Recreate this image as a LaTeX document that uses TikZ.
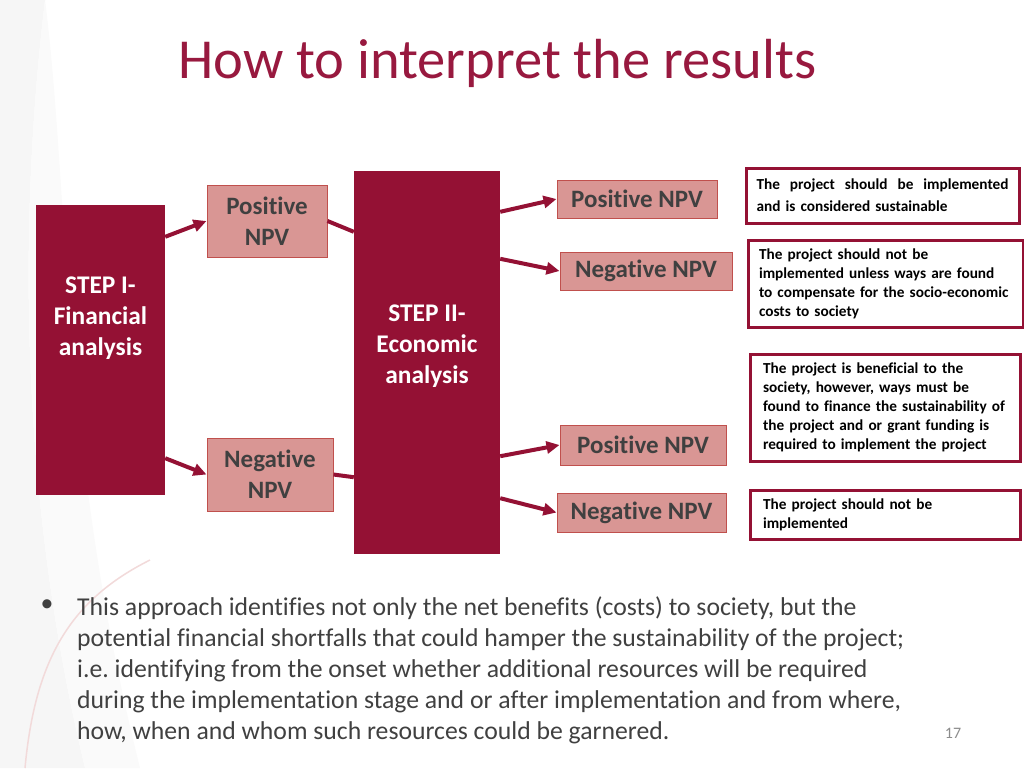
\documentclass[tikz,border=0pt]{standalone}
\usepackage{fontspec}
\setmainfont{Carlito}[Ligatures=NoCommon]
\usetikzlibrary{arrows.meta}
\definecolor{stepred}{HTML}{941134}
\definecolor{npvfill}{HTML}{D99694}
\definecolor{npvline}{HTML}{C0504D}
\definecolor{titlered}{HTML}{98193F}
\definecolor{bodygray}{HTML}{404040}
\definecolor{pagegray}{HTML}{8C8C8C}
\tikzset{
  stepbox/.style={fill=stepred, inner sep=0pt},
  steptext/.style={text=white, font=\bfseries\fontsize{25.4}{31}\selectfont, align=center},
  npvbox/.style={fill=npvfill, draw=npvline, line width=1pt, text=bodygray,
    font=\bfseries\fontsize{25}{31}\selectfont, align=center, inner sep=0pt},
  resbox/.style={draw=stepred, line width=3pt, fill=white, inner sep=0pt,
    font=\bfseries\fontsize{15.3}{19}\selectfont, align=left},
  arr/.style={draw=stepred, line width=4pt, -{Triangle[length=13pt,width=12pt]}},
  link/.style={draw=stepred, line width=4pt},
}
\begin{document}
\begin{tikzpicture}[x=1pt,y=-1pt]

  \useasboundingbox (0,0) rectangle (1024,768);
  \fill[white] (0,0) rectangle (1024,768);
  \fill[gray!7] (0,0) -- (45,0) .. controls (15,250) and (25,520) .. (85,768) -- (0,768) -- cycle;
  \fill[gray!4] (45,0) .. controls (70,200) and (60,450) .. (140,768) -- (85,768) .. controls (25,520) and (15,250) .. (45,0);
  \draw[npvfill!35, line width=1.5pt] (25,768) .. controls (35,660) and (70,600) .. (150,560);

  \node[anchor=west, text=titlered, font=\fontsize{56.5}{60}\selectfont] at (175,63) (title) {How to interpret the results};

  \node[stepbox, minimum width=129, minimum height=290,
    label={[steptext, yshift=32pt]center:STEP I-\\Financial\\analysis}] at (100.5,350) (step1) {};
  \node[stepbox, minimum width=146, minimum height=383,
    label={[steptext, yshift=16pt]center:STEP II-\\Economic\\analysis}] at (427,362.5) (step2) {};

  \node[npvbox, minimum width=120, minimum height=72] at (267,221) (posA) {Positive\\NPV};
  \node[npvbox, minimum width=126, minimum height=73] at (270,474.5) (negA) {Negative\\NPV};

  \node[npvbox, minimum width=160, minimum height=38] at (637,199) (posB1) {Positive NPV};
  \node[npvbox, minimum width=172, minimum height=38] at (646,271) (negB1) {Negative NPV};
  \node[npvbox, minimum width=166, minimum height=40] at (643,445) (posB2) {Positive NPV};
  \node[npvbox, minimum width=169, minimum height=39] at (641.5,512.5) (negB2) {Negative NPV};

  \node[resbox, minimum width=273, minimum height=55, text width=252,
    font=\bfseries\fontsize{15.3}{22}\selectfont] at (882.5,195.5) (res1)
    {The\hfill project\hfill should\hfill be\hfill implemented\\and is considered sustainable};
  \node[resbox, minimum width=275, minimum height=87, text width=253] at (885.5,283.5) (res2)
    {The project should not be\\implemented unless ways are found\\to compensate for the socio-economic\\costs to society};
  \node[resbox, minimum width=270, minimum height=107, text width=244] at (885,407.5) (res3)
    {The project is beneficial to the\\society, however, ways must be\\found to finance the sustainability of\\the project and or grant funding is\\required to implement the project};
  \node[resbox, minimum width=270, minimum height=49, text width=244] at (885,514.5) (res4)
    {The project should not be\\implemented};

  \draw[arr] ([yshift=-32pt]step1.north east) -- (posA.west);
  \draw[arr] ([yshift=37pt]step1.south east) -- (negA.west);
  \draw[link] (posA.east) -- ([yshift=-61pt]step2.north west);
  \draw[link] (negA.east) -- ([yshift=77pt]step2.south west);

  \draw[arr] ([yshift=-41pt]step2.north east) -- (posB1.west);
  \draw[arr] ([yshift=-88pt]step2.north east) -- (negB1.west);
  \draw[arr] ([yshift=98pt]step2.south east) -- (posB2.west);
  \draw[arr] ([yshift=56pt]step2.south east) -- (negB2.west);

  \node[text=bodygray, font=\fontsize{25.7}{31}\selectfont] at (47,606) (bul) {•};
  \node[anchor=north west, inner sep=0pt, text=bodygray, align=left,
    font=\fontsize{25.7}{31}\selectfont] at (77,596) (body)
    {This approach identifies not only the net benefits (costs) to society, but the\\
     potential financial shortfalls that could hamper the sustainability of the project;\\
     i.e.\ identifying from the onset whether additional resources will be required\\
     during the implementation stage and or after implementation and from where,\\
     how, when and whom such resources could be garnered.};

  \node[text=pagegray, font=\fontsize{16}{18}\selectfont] at (953,733) (page) {17};
\end{tikzpicture}
\end{document}
